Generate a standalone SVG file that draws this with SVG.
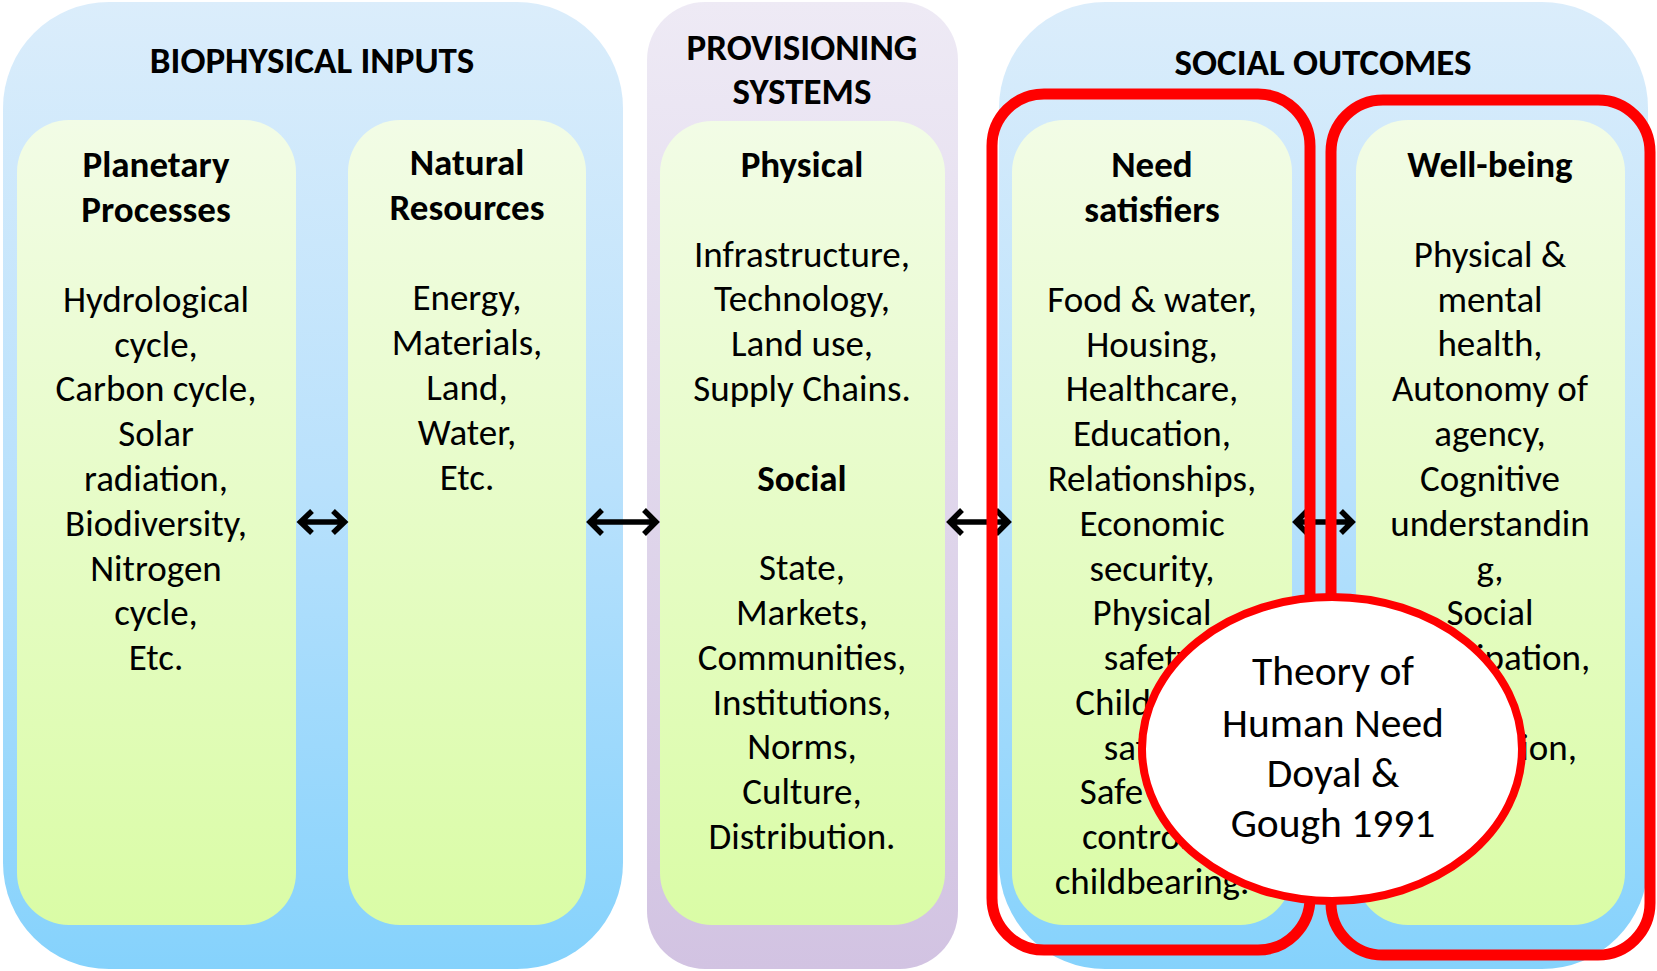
<svg xmlns="http://www.w3.org/2000/svg" width="1657" height="971" viewBox="0 0 1657 971">
<defs>
<linearGradient id="gBlue" x1="0" y1="0" x2="0" y2="1">
<stop offset="0" stop-color="#dbedfb"/>
<stop offset="0.5" stop-color="#b9e1fc"/>
<stop offset="1" stop-color="#85d2fc"/>
</linearGradient>
<linearGradient id="gPurple" x1="0" y1="0" x2="0" y2="1">
<stop offset="0" stop-color="#eeeaf5"/>
<stop offset="1" stop-color="#d2c3e2"/>
</linearGradient>
<linearGradient id="gGreen" x1="0" y1="0" x2="0" y2="1">
<stop offset="0" stop-color="#f2fce6"/>
<stop offset="1" stop-color="#dafca6"/>
</linearGradient>
<style>
.outerB{fill:url(#gBlue);}
.outerP{fill:url(#gPurple);}
.inner{fill:url(#gGreen);}
.t{font-family:Carlito,Calibri,Lato,"Open Sans",sans-serif;font-size:37px;fill:#000;text-anchor:middle;}
.b{font-weight:bold;}
.c{font-size:41.5px;}
.arrow{fill:none;stroke:#000;stroke-width:5.5;stroke-linejoin:miter;}
.red{fill:none;stroke:#ff0000;stroke-width:11;}
</style>
</defs>

<g id="biophysical-inputs">
<rect class="outerB" x="3" y="2" width="620" height="967" rx="106" ry="106"/>
<text class="t b" x="312" y="73">BIOPHYSICAL INPUTS</text>
</g>
<g id="provisioning-systems">
<rect class="outerP" x="647" y="2" width="311" height="967" rx="58" ry="58"/>
<text class="t b" x="802" y="60">PROVISIONING</text>
<text class="t b" x="802" y="104">SYSTEMS</text>
</g>
<g id="social-outcomes">
<rect class="outerB" x="999" y="2" width="649" height="967" rx="106" ry="106"/>
<text class="t b" x="1323" y="75">SOCIAL OUTCOMES</text>
</g>

<g id="planetary-processes">
<rect class="inner" x="17" y="120" width="279" height="805" rx="52" ry="52"/>
<text class="t b" x="156" y="177">Planetary</text>
<text class="t b" x="156" y="222">Processes</text>
<text class="t" x="156" y="312">Hydrological</text>
<text class="t" x="156" y="357">cycle,</text>
<text class="t" x="156" y="401">Carbon cycle,</text>
<text class="t" x="156" y="446">Solar</text>
<text class="t" x="156" y="491">radiation,</text>
<text class="t" x="156" y="536">Biodiversity,</text>
<text class="t" x="156" y="581">Nitrogen</text>
<text class="t" x="156" y="625">cycle,</text>
<text class="t" x="156" y="670">Etc.</text>
</g>

<g id="natural-resources">
<rect class="inner" x="348" y="120" width="238" height="805" rx="52" ry="52"/>
<text class="t b" x="467" y="175">Natural</text>
<text class="t b" x="467" y="220">Resources</text>
<text class="t" x="467" y="310">Energy,</text>
<text class="t" x="467" y="355">Materials,</text>
<text class="t" x="467" y="400">Land,</text>
<text class="t" x="467" y="445">Water,</text>
<text class="t" x="467" y="490">Etc.</text>
</g>

<g id="physical-social">
<rect class="inner" x="660" y="121" width="285" height="804" rx="52" ry="52"/>
<text class="t b" x="802" y="177">Physical</text>
<text class="t" x="802" y="267">Infrastructure,</text>
<text class="t" x="802" y="311">Technology,</text>
<text class="t" x="802" y="356">Land use,</text>
<text class="t" x="802" y="401">Supply Chains.</text>
<text class="t b" x="802" y="491">Social</text>
<text class="t" x="802" y="580">State,</text>
<text class="t" x="802" y="625">Markets,</text>
<text class="t" x="802" y="670">Communities,</text>
<text class="t" x="802" y="715">Institutions,</text>
<text class="t" x="802" y="759">Norms,</text>
<text class="t" x="802" y="804">Culture,</text>
<text class="t" x="802" y="849">Distribution.</text>
</g>

<g id="need-satisfiers">
<rect class="inner" x="1012" y="120" width="280" height="805" rx="52" ry="52"/>
<text class="t b" x="1152" y="177">Need</text>
<text class="t b" x="1152" y="222">satisfiers</text>
<text class="t" x="1152" y="312">Food &amp; water,</text>
<text class="t" x="1152" y="357">Housing,</text>
<text class="t" x="1152" y="401">Healthcare,</text>
<text class="t" x="1152" y="446">Education,</text>
<text class="t" x="1152" y="491">Relationships,</text>
<text class="t" x="1152" y="536">Economic</text>
<text class="t" x="1152" y="581">security,</text>
<text class="t" x="1152" y="625">Physical</text>
<text class="t" x="1152" y="670">safety,</text>
<text class="t" x="1152" y="715">Childhood</text>
<text class="t" x="1152" y="760">safety,</text>
<text class="t" x="1152" y="804">Safe birth</text>
<text class="t" x="1152" y="849">control &amp;</text>
<text class="t" x="1152" y="894">childbearing.</text>
</g>

<g id="well-being">
<rect class="inner" x="1356" y="120" width="269" height="805" rx="52" ry="52"/>
<text class="t b" x="1490" y="177">Well-being</text>
<text class="t" x="1490" y="267">Physical &amp;</text>
<text class="t" x="1490" y="312">mental</text>
<text class="t" x="1490" y="356">health,</text>
<text class="t" x="1490" y="401">Autonomy of</text>
<text class="t" x="1490" y="446">agency,</text>
<text class="t" x="1490" y="491">Cognitive</text>
<text class="t" x="1490" y="536">understandin</text>
<text class="t" x="1490" y="581">g,</text>
<text class="t" x="1490" y="625">Social</text>
<text class="t" x="1490" y="670">participation,</text>
<text class="t" x="1490" y="760">Motivation,</text>
</g>

<g id="connectors">
<path class="arrow" d="M301,522 H344 M312,511 L300.5,522 L312,533 M333,511 L344.5,522 L333,533"/>
<path class="arrow" d="M590,522 H656 M602,510 L590,522 L602,534 M644,510 L656,522 L644,534"/>
<path class="arrow" d="M950,522 H1008 M962,510 L950,522 L962,534 M996,510 L1008,522 L996,534"/>
<path class="arrow" d="M1296,522 H1352 M1307,511 L1296,522 L1307,533 M1341,511 L1352,522 L1341,533"/>
</g>

<g id="highlight-need-satisfiers">
<rect class="red" x="992" y="94" width="318" height="856" rx="52" ry="52"/>
</g>
<g id="highlight-well-being">
<rect class="red" x="1331" y="100" width="319" height="855" rx="52" ry="52"/>
</g>

<g id="theory-of-human-need">
<ellipse cx="1332" cy="749" rx="190" ry="152" fill="#ffffff" stroke="#ff0000" stroke-width="8"/>
<text class="t c" x="1333" y="685">Theory of</text>
<text class="t c" x="1333" y="737">Human Need</text>
<text class="t c" x="1333" y="787">Doyal &amp;</text>
<text class="t c" x="1333" y="837">Gough 1991</text>
</g>
</svg>
